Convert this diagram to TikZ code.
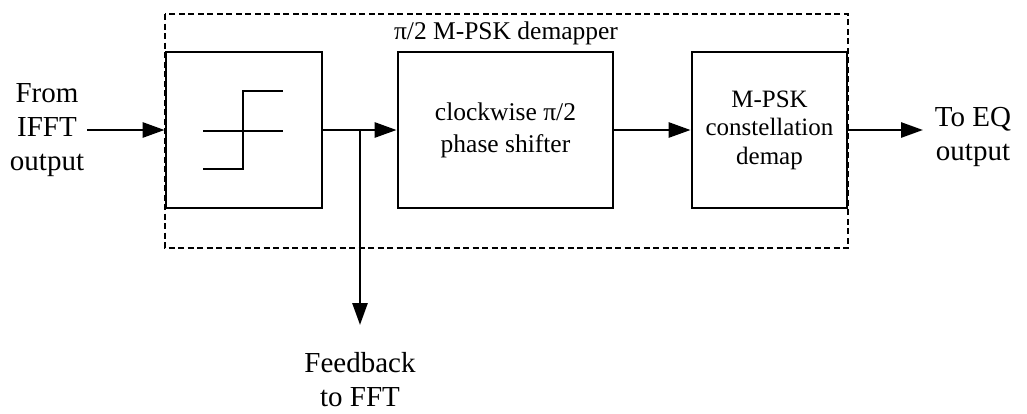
\documentclass[tikz,border=0pt]{standalone}
\usepackage{fontspec}
\setmainfont{Liberation Serif}
\usetikzlibrary{arrows.meta}
\begin{document}
\begin{tikzpicture}[x=1pt,y=-1pt,
  block/.style={draw,line width=2.8pt,inner sep=0pt,align=center,
    font=\fontsize{25}{29}\selectfont},
  outlbl/.style={align=center,inner sep=0pt,font=\fontsize{29}{34}\selectfont},
  sig/.style={line width=2.8pt,-{Triangle[length=22pt,width=15pt]}},
  wire/.style={line width=2.8pt},
  frame/.style={line width=2pt,dash pattern=on 6pt off 3.5pt}]
\useasboundingbox (0,0) rectangle (1027,413);

% outer dashed frame of the demapper
\draw[frame] (165,14) rectangle (848,248);
\node[font=\fontsize{25.5}{30}\selectfont,inner sep=0pt] (title) at (506,33) {π/2 M-PSK demapper};

% processing blocks
\node[block,minimum width=156pt,minimum height=156pt] (quant) at (244,130) {};
\node[block,minimum width=215pt,minimum height=156pt,font=\fontsize{25.5}{32}\selectfont] (shift) at (505.5,130) {clockwise π/2\\phase shifter};
\node[block,minimum width=155pt,minimum height=156pt,font=\fontsize{25}{28.5}\selectfont] (demap) at (769.5,130) {M-PSK\\constellation\\demap};

% hard-decision staircase inside the first block
\draw[wire] (203,131) -- (283,131);
\draw[wire] (203,169) -- (243,169) -- (243,91) -- (283,91);

% external labels
\node[outlbl] (src) at (47,130) {From\\IFFT\\output};
\node[outlbl] (dst) at (973,137) {To EQ\\output};
\node[outlbl] (fb) at (360,380) {Feedback\\to FFT};

\coordinate (inp) at (87,130);
\coordinate (outp) at (923,130);
\coordinate (tap) at (360,130);
\coordinate (fbend) at (360,325);

% signal flow
\draw[sig] (inp) -- (quant.west);
\draw[sig] (quant.east) -- (shift.west);
\draw[sig] (shift.east) -- (demap.west);
\draw[sig] (demap.east) -- (outp);
\draw[sig] (tap) -- (fbend);
\end{tikzpicture}
\end{document}
